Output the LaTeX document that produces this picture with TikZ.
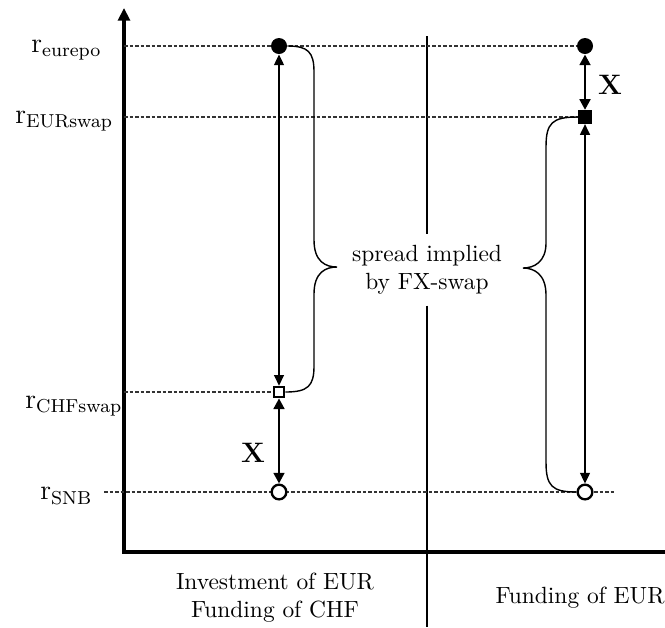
\documentclass[tikz,border=0pt]{standalone}
\usepackage{tikz}
\usetikzlibrary{arrows.meta,positioning,calc}

\begin{document}
\begin{tikzpicture}[x=0.15mm, y=-0.15mm,
    axisline/.style={line width=1.3pt, black},
    divline/.style={line width=1pt, black},
    level/.style={dashed, dash pattern=on 1.5pt off 0.85pt, line width=0.45pt, black!80},
    thinarr/.style={{Triangle[length=1.6mm, width=1.5mm]}-{Triangle[length=1.6mm, width=1.5mm]}, line width=0.5pt},
    thickarr/.style={{Triangle[length=1.6mm, width=1.6mm]}-{Triangle[length=1.6mm, width=1.6mm]}, line width=1.1pt},
    brace/.style={line width=0.6pt},
    fdot/.style={circle, fill=black, inner sep=0pt, minimum size=2.4mm},
    odot/.style={circle, draw=black, fill=white, line width=1pt, inner sep=0pt, minimum size=2.2mm},
    fsq/.style={rectangle, fill=black, inner sep=0pt, minimum size=2mm},
    osq/.style={rectangle, draw=black, fill=white, line width=1pt, inner sep=0pt, minimum size=1.55mm},
    rlab/.style={font=\large, anchor=west, inner sep=0pt},
    xlab/.style={font=\large\bfseries}]
    \useasboundingbox (0,0) rectangle (665,627);
    % axes and divider
    \coordinate (o) at (124,552);
    \coordinate (ytop) at (124,8);
    \coordinate (xend) at (665,552);
    \coordinate (dtop) at (427,36);
    \coordinate (dbot) at (427,627);
    \draw[axisline, -{Triangle[length=1.9mm, width=1.8mm]}] (xend) -- (o) -- (ytop);
    \node[align=center, inner xsep=2pt, inner ysep=4.5pt] (spread) at (427,270) {spread implied\\by FX-swap};
    \draw[divline] (dtop) -- (spread.north);
    \draw[divline] (spread.south) -- (dbot);
    % rate labels
    \node[rlab] (leurepo) at (31,50) {$\mathrm{r}_{\mathrm{eurepo}}$};
    \node[rlab] (leurswap) at (15,121) {$\mathrm{r}_{\mathrm{EURswap}}$};
    \node[rlab] (lchfswap) at (25,406) {$\mathrm{r}_{\mathrm{CHFswap}}$};
    \node[rlab] (lsnb) at (40,496) {$\mathrm{r}_{\mathrm{SNB}}$};
    % level lines
    \coordinate (ae) at (124,46);
    \coordinate (aw) at (124,117);
    \coordinate (ac) at (124,392);
    \coordinate (as) at (104,492);
    \coordinate (se) at (615,492);
    \path (279,46) coordinate (peL) (585,46) coordinate (peR) (585,117) coordinate (pwR)
          (279,392) coordinate (pcL) (279,492) coordinate (psL) (585,492) coordinate (psR);
    \draw[level] (ae) -- (peR);
    \draw[level] (aw) -- (pwR);
    \draw[level] (ac) -- (pcL);
    \draw[level] (as) -- (psL) -- (psR) -- (se);
    % markers
    \node[fdot] (eL) at (peL) {};
    \node[osq] (cL) at (pcL) {};
    \node[odot] (sL) at (psL) {};
    \node[fdot] (eR) at (peR) {};
    \node[fsq] (wR) at (pwR) {};
    \node[odot] (sR) at (psR) {};
    % spreads
    \draw[thinarr] (eL.south) -- (cL.north);
    \draw[thickarr] (cL.south) -- (sL.north);
    \draw[thickarr] (eR.south) -- (wR.north);
    \draw[thinarr] (wR.south) -- (sR.north);
    \node[xlab] (xL) at (253,453) {X};
    \node[xlab] (xR) at (610,85) {X};
    % braces
    \draw[brace] (eL.east) .. controls (308,46) and (314,52) .. (314,72) -- (314,240)
          .. controls (314,262) and (326,267) .. (337,267)
          .. controls (326,267) and (314,272) .. (314,294) -- (314,366)
          .. controls (314,386) and (308,392) .. (cL.east);
    \draw[brace] (wR.west) .. controls (552,117) and (546,123) .. (546,147) -- (546,243)
          .. controls (546,262) and (534,268) .. (523,268)
          .. controls (534,268) and (546,274) .. (546,295) -- (546,462)
          .. controls (546,486) and (552,492) .. (sR.west);
    % column labels
    \node[align=center] (colL) at (275,598) {Investment of EUR\\Funding of CHF};
    \node (colR) at (580,598) {Funding of EUR};
  \end{tikzpicture}
\end{document}
